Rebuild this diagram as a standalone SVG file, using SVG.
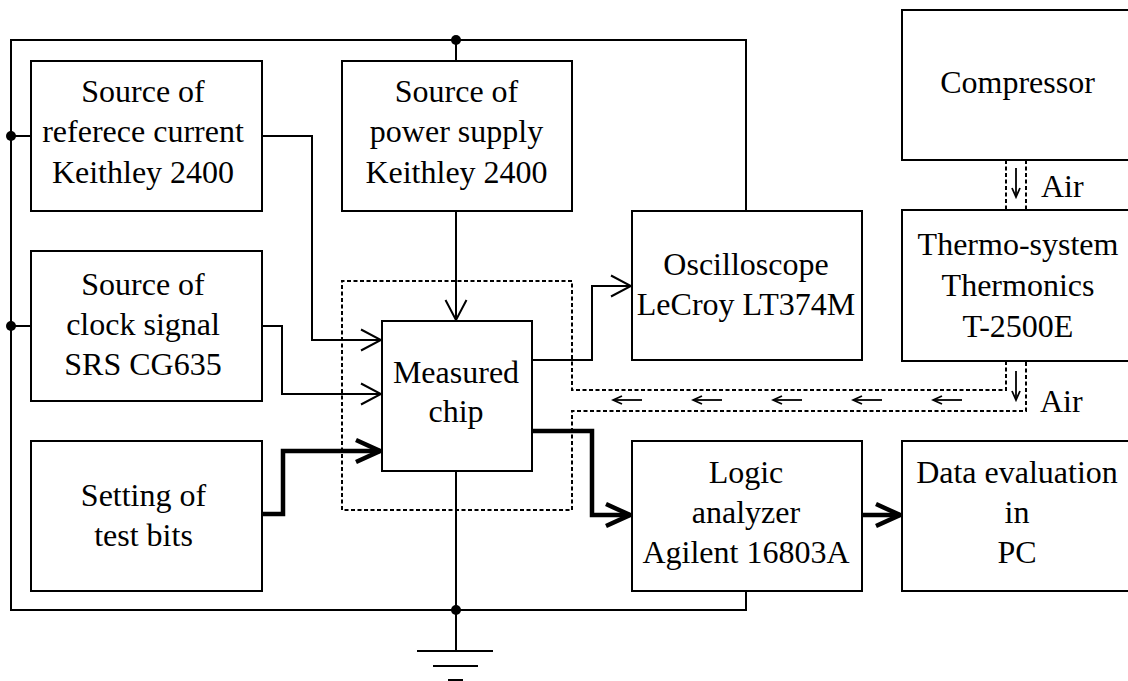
<svg xmlns="http://www.w3.org/2000/svg" width="1128" height="681" viewBox="0 0 1128 681" font-family="Liberation Serif, Times New Roman, DejaVu Serif, serif" font-size="32">
<style>
.box{fill:#fff;stroke:#000;stroke-width:2}
.w{fill:none;stroke:#000;stroke-width:2}
.wt{fill:none;stroke:#000;stroke-width:4.5}
.d{fill:none;stroke:#000;stroke-width:2;stroke-dasharray:4 2.5}
.sa{fill:none;stroke:#000;stroke-width:1.8}
.c{text-anchor:middle}
</style>
<defs>
<marker id="a" markerUnits="userSpaceOnUse" viewBox="-24 -13 26 26" refX="0" refY="0" markerWidth="26" markerHeight="26" orient="auto">
<path d="M-20,-10.5 L0,0 L-20,10.5" fill="none" stroke="#000" stroke-width="2"/>
</marker>
<marker id="at" markerUnits="userSpaceOnUse" viewBox="-28 -15 32 30" refX="0" refY="0" markerWidth="32" markerHeight="30" orient="auto">
<path d="M-24,-11 L0,0 L-24,11" fill="none" stroke="#000" stroke-width="4.5"/>
</marker>
<marker id="s" markerUnits="userSpaceOnUse" viewBox="-12 -6 14 12" refX="0" refY="0" markerWidth="14" markerHeight="12" orient="auto">
<path d="M-9,-4 L0,0 L-9,4" fill="none" stroke="#000" stroke-width="1.8"/>
</marker>
</defs>

<g id="connectors">
<path class="w" d="M746,210 V40 H11 V610 H746 V591"/>
<path class="w" d="M11,136 H31"/>
<path class="w" d="M11,326 H31"/>
<path class="w" d="M456,40 V61"/>
<path class="w" d="M456,471 V651"/>
<path class="w" d="M262,136 H312 V340 H381" marker-end="url(#a)"/>
<path class="w" d="M262,326 H282 V394 H381" marker-end="url(#a)"/>
<path class="w" d="M456,211 V320" marker-end="url(#a)"/>
<path class="wt" d="M262,514 H283 V451 H380" marker-end="url(#at)"/>
<path class="w" d="M532,360 H592 V286 H631" marker-end="url(#a)"/>
<path class="wt" d="M532,431 H592 V515 H630" marker-end="url(#at)"/>
<path class="wt" d="M862,515 H900" marker-end="url(#at)"/>
<circle cx="11" cy="136" r="5"/>
<circle cx="11" cy="326" r="5"/>
<circle cx="456" cy="40" r="5"/>
<circle cx="456" cy="610" r="5"/>
<g id="ground">
<path class="w" d="M417,651 H493 M433,666 H478 M448,680 H463"/>
</g>
<g id="air-duct">
<path class="d" d="M1006,361 V390 H572 V281 H342 V510 H572 V411 H1026 V361"/>
<path class="d" d="M1006,160 V210 M1026,160 V210"/>
<path class="sa" d="M1016,168 V197" marker-end="url(#s)"/>
<path class="sa" d="M1016,371 V400" marker-end="url(#s)"/>
<path class="sa" d="M642,400 H613" marker-end="url(#s)"/>
<path class="sa" d="M722,400 H693" marker-end="url(#s)"/>
<path class="sa" d="M802,400 H773" marker-end="url(#s)"/>
<path class="sa" d="M882,400 H853" marker-end="url(#s)"/>
<path class="sa" d="M962,400 H933" marker-end="url(#s)"/>
<text x="1041" y="197">Air</text>
<text x="1040" y="412">Air</text>
</g>
</g>

<g id="ref-current">
<rect class="box" x="31" y="61" width="231" height="150"/>
<text class="c" x="143" y="102">Source of</text>
<text class="c" x="143" y="142">referece current</text>
<text class="c" x="143" y="183">Keithley 2400</text>
</g>
<g id="power-supply">
<rect class="box" x="342" y="61" width="230" height="150"/>
<text class="c" x="456.5" y="102">Source of</text>
<text class="c" x="456.5" y="142">power supply</text>
<text class="c" x="456.5" y="183">Keithley 2400</text>
</g>
<g id="clock">
<rect class="box" x="31" y="251" width="231" height="150"/>
<text class="c" x="143" y="295">Source of</text>
<text class="c" x="143" y="335">clock signal</text>
<text class="c" x="143" y="375">SRS CG635</text>
</g>
<g id="test-bits">
<rect class="box" x="31" y="441" width="231" height="150"/>
<text class="c" x="143.5" y="506">Setting of</text>
<text class="c" x="143.5" y="546">test bits</text>
</g>
<g id="chip">
<rect class="box" x="382" y="321" width="150" height="150"/>
<text class="c" x="456" y="383">Measured</text>
<text class="c" x="456" y="422">chip</text>
</g>
<g id="oscilloscope">
<rect class="box" x="632" y="211" width="230" height="149"/>
<text class="c" x="746" y="275">Oscilloscope</text>
<text class="c" x="746" y="315">LeCroy LT374M</text>
</g>
<g id="compressor">
<rect class="box" x="902" y="10" width="230" height="150"/>
<text class="c" x="1017.5" y="93">Compressor</text>
</g>
<g id="thermo">
<rect class="box" x="902" y="210" width="230" height="151"/>
<text class="c" x="1018" y="255">Thermo-system</text>
<text class="c" x="1018" y="296">Thermonics</text>
<text class="c" x="1018" y="337">T-2500E</text>
</g>
<g id="logic-analyzer">
<rect class="box" x="632" y="441" width="230" height="150"/>
<text class="c" x="746" y="483">Logic</text>
<text class="c" x="746" y="523">analyzer</text>
<text class="c" x="746" y="563">Agilent 16803A</text>
</g>
<g id="data-eval">
<rect class="box" x="902" y="441" width="230" height="150"/>
<text class="c" x="1017" y="483">Data evaluation</text>
<text class="c" x="1017" y="523">in</text>
<text class="c" x="1017" y="563">PC</text>
</g>
</svg>
